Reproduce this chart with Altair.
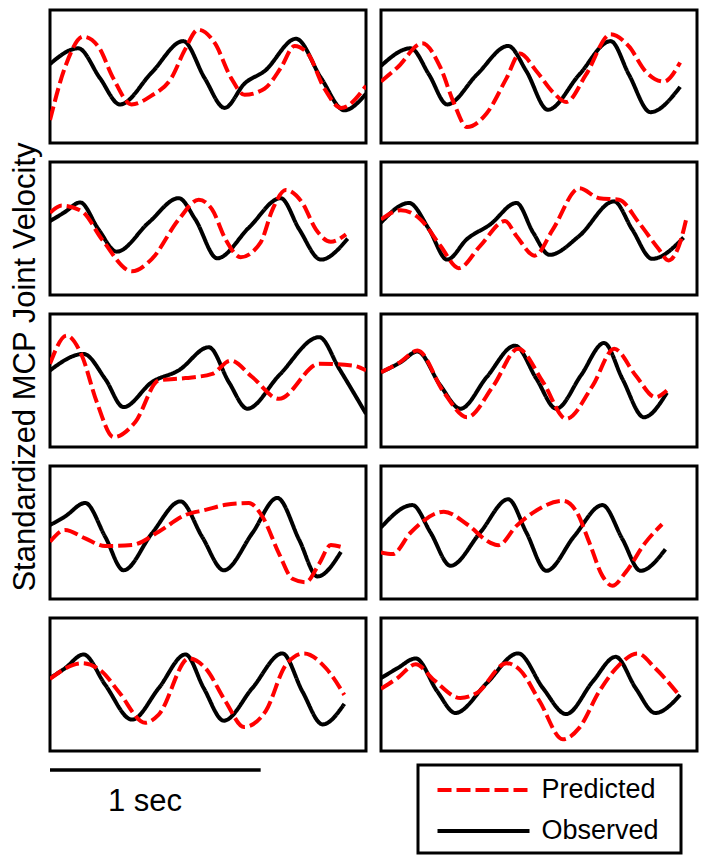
import altair as alt
import pandas as pd

FONT = "Liberation Sans"
SERIES = ["Predicted", "Observed"]
COLORS = ["#ff0000", "#000000"]
DASHES = [[14, 5], [1, 0]]
TITLE = "Standardized MCP Joint Velocity"
SCALE_LABEL = "1 sec"

# time (s) and standardized velocity
p1_obs_t = [0, 0.134, 0.237, 0.332, 0.482, 0.632, 0.734, 0.829, 0.924, 1.018, 1.168, 1.287, 1.397, 1.5]
p1_obs_v = [0.47, 1.06, -0.06, -1.05, 0.14, 1.33, -0.06, -1.18, -0.26, 0.20, 1.42, -0.06, -1.27, -0.65]
p1_pred_t = [0, 0.071, 0.158, 0.229, 0.3, 0.387, 0.482, 0.576, 0.64, 0.703, 0.782, 0.86, 0.924, 1.018, 1.097, 1.161, 1.224, 1.303, 1.382, 1.5]
p1_pred_v = [-1.64, 0.34, 1.50, 1.13, -0.06, -1.05, -0.72, -0.06, 1.0, 1.76, 1.26, -0.06, -0.69, -0.46, 0.34, 1.15, 0.86, -0.46, -1.18, -0.35]

p2_obs_t = [0, 0.141, 0.228, 0.314, 0.455, 0.604, 0.69, 0.792, 0.941, 1.09, 1.177, 1.279, 1.42]
p2_obs_v = [0.40, 1.06, 0.07, -1.05, 0.07, 1.15, 0.20, -1.25, 0.07, 1.33, 0.07, -1.34, -0.39]
p2_pred_t = [0, 0.078, 0.196, 0.282, 0.345, 0.408, 0.502, 0.596, 0.659, 0.738, 0.816, 0.879, 0.973, 1.09, 1.177, 1.255, 1.342, 1.42]
p2_pred_v = [-0.19, 0.34, 1.25, 0.34, -0.98, -1.90, -1.38, -0.06, 0.86, 0.20, -0.59, -0.96, 0.07, 1.59, 1.13, 0.20, -0.19, 0.53]

p3_obs_t = [0, 0.071, 0.143, 0.23, 0.317, 0.468, 0.611, 0.69, 0.794, 0.944, 1.095, 1.183, 1.286, 1.413]
p3_obs_v = [0.28, 0.62, 0.98, -0.03, -0.87, 0.22, 1.14, 0.34, -1.12, 0.03, 1.14, -0.03, -1.17, -0.38]
p3_pred_t = [0, 0.056, 0.151, 0.246, 0.389, 0.484, 0.611, 0.706, 0.77, 0.833, 0.905, 1.0, 1.056, 1.119, 1.198, 1.262, 1.333, 1.405]
p3_pred_v = [0.59, 0.86, 0.65, -0.40, -1.61, -1.14, 0.34, 1.08, 0.71, -0.40, -1.08, -0.52, 0.71, 1.45, 0.96, -0.03, -0.50, -0.22]

p4_obs_t = [0, 0.133, 0.228, 0.314, 0.408, 0.518, 0.643, 0.722, 0.8, 0.941, 1.106, 1.192, 1.287, 1.436]
p4_obs_v = [0.22, 0.96, -0.03, -1.17, -0.40, 0.15, 0.96, -0.15, -0.99, -0.28, 1.02, -0.03, -1.14, -0.34]
p4_pred_t = [0, 0.094, 0.188, 0.282, 0.369, 0.471, 0.589, 0.643, 0.73, 0.816, 0.941, 1.036, 1.13, 1.224, 1.318, 1.365, 1.42, 1.452]
p4_pred_v = [0.34, 0.69, 0.34, -0.65, -1.49, -0.65, 0.28, -0.28, -1.02, -0.03, 1.51, 1.14, 1.08, 0.22, -0.77, -1.20, -0.52, 0.46]

p5_obs_t = [0, 0.159, 0.262, 0.349, 0.484, 0.611, 0.754, 0.849, 0.937, 1.087, 1.278, 1.373, 1.5]
p5_obs_v = [0.38, 1.0, 0.06, -1.0, -0.06, 0.38, 1.25, -0.06, -1.06, 0.19, 1.63, 0.44, -1.25]
p5_pred_t = [0, 0.079, 0.151, 0.222, 0.302, 0.405, 0.516, 0.643, 0.77, 0.857, 0.96, 1.087, 1.278, 1.437, 1.5]
p5_pred_v = [0.63, 1.69, 0.94, -0.81, -2.13, -1.56, 0.0, 0.09, 0.25, 0.75, 0.13, -0.69, 0.63, 0.56, 0.38]

p6_obs_t = [0, 0.094, 0.173, 0.282, 0.377, 0.502, 0.636, 0.738, 0.832, 0.949, 1.059, 1.146, 1.248, 1.357]
p6_obs_v = [0.31, 0.69, 1.09, -0.19, -1.06, 0.13, 1.31, 0.06, -1.06, 0.19, 1.41, 0.06, -1.38, -0.46]
p6_pred_t = [0, 0.094, 0.173, 0.298, 0.408, 0.534, 0.651, 0.769, 0.879, 1.005, 1.107, 1.209, 1.303, 1.357]
p6_pred_v = [0.31, 0.71, 1.13, -0.44, -1.38, -0.19, 1.19, -0.06, -1.44, -0.19, 1.19, 0.19, -0.63, -0.38]

p7_obs_t = [0, 0.071, 0.167, 0.262, 0.349, 0.484, 0.619, 0.722, 0.825, 0.96, 1.079, 1.183, 1.27, 1.381]
p7_obs_v = [0.28, 0.60, 1.11, -0.16, -1.42, -0.03, 1.17, -0.16, -1.42, -0.03, 1.30, -0.28, -1.65, -0.73]
p7_pred_t = [0, 0.071, 0.167, 0.262, 0.389, 0.516, 0.643, 0.738, 0.833, 0.944, 1.008, 1.087, 1.151, 1.214, 1.278, 1.333, 1.381]
p7_pred_v = [-0.35, 0.09, -0.22, -0.51, -0.47, 0.03, 0.66, 0.85, 1.04, 1.11, 0.60, -0.79, -1.74, -1.87, -1.17, -0.47, -0.54]

p8_obs_t = [0, 0.149, 0.235, 0.33, 0.471, 0.604, 0.69, 0.785, 0.918, 1.051, 1.146, 1.232, 1.35]
p8_obs_v = [0.19, 1.03, 0.0, -1.25, 0.0, 1.25, 0.0, -1.44, -0.13, 1.03, -0.25, -1.44, -0.63]
p8_pred_t = [0, 0.055, 0.141, 0.298, 0.408, 0.518, 0.557, 0.643, 0.722, 0.863, 0.926, 0.989, 1.051, 1.098, 1.161, 1.255, 1.334]
p8_pred_v = [-0.75, -0.81, 0.0, 0.78, 0.31, -0.38, -0.48, 0.25, 0.75, 1.19, 0.81, -0.38, -1.63, -2.0, -1.5, -0.38, 0.31]

p9_obs_t = [0, 0.071, 0.159, 0.262, 0.389, 0.516, 0.643, 0.73, 0.825, 0.96, 1.103, 1.198, 1.294, 1.397]
p9_obs_v = [0.24, 0.61, 1.13, -0.01, -1.32, -0.14, 1.13, -0.14, -1.36, -0.14, 1.17, -0.26, -1.50, -0.73]
p9_pred_t = [0, 0.151, 0.246, 0.325, 0.452, 0.516, 0.659, 0.738, 0.833, 0.921, 1.024, 1.119, 1.206, 1.31, 1.397]
p9_pred_v = [0.21, 0.80, 0.49, -0.26, -1.44, -1.13, 0.98, 0.61, -0.63, -1.60, -1.0, 0.73, 1.17, 0.61, -0.39]

p10_obs_t = [0, 0.078, 0.165, 0.267, 0.353, 0.502, 0.651, 0.769, 0.879, 1.005, 1.114, 1.209, 1.302, 1.42]
p10_obs_v = [0.24, 0.61, 0.98, -0.26, -1.07, 0.05, 1.17, -0.14, -1.11, 0.11, 1.04, -0.14, -1.07, -0.39]
p10_pred_t = [0, 0.078, 0.165, 0.251, 0.377, 0.455, 0.596, 0.659, 0.753, 0.863, 0.941, 1.036, 1.13, 1.217, 1.302, 1.42]
p10_pred_v = [-0.16, 0.24, 0.76, 0.17, -0.51, -0.32, 0.80, 0.55, -0.63, -2.06, -1.63, -0.26, 0.73, 1.17, 0.61, -0.45]

panels = [
    [(p1_obs_t, p1_obs_v, p1_pred_t, p1_pred_v), (p2_obs_t, p2_obs_v, p2_pred_t, p2_pred_v)],
    [(p3_obs_t, p3_obs_v, p3_pred_t, p3_pred_v), (p4_obs_t, p4_obs_v, p4_pred_t, p4_pred_v)],
    [(p5_obs_t, p5_obs_v, p5_pred_t, p5_pred_v), (p6_obs_t, p6_obs_v, p6_pred_t, p6_pred_v)],
    [(p7_obs_t, p7_obs_v, p7_pred_t, p7_pred_v), (p8_obs_t, p8_obs_v, p8_pred_t, p8_pred_v)],
    [(p9_obs_t, p9_obs_v, p9_pred_t, p9_pred_v), (p10_obs_t, p10_obs_v, p10_pred_t, p10_pred_v)],
]

PANEL_W = 316
PANEL_H = 133

x_scale = alt.Scale(domain=[0, 1.5], nice=False, zero=False)
y_scale = alt.Scale(domain=[-2.5, 2.5], nice=False, zero=False)
color_scale = alt.Scale(domain=SERIES, range=COLORS)
dash_scale = alt.Scale(domain=SERIES, range=DASHES)


def series_line(t_vals, v_vals, name):
    d = pd.DataFrame({"t": t_vals, "v": v_vals, "series": name})
    return alt.Chart(d).mark_line(
        strokeWidth=4, interpolate="monotone", strokeJoin="round", clip=True
    ).encode(
        x=alt.X("t:Q", scale=x_scale, axis=None),
        y=alt.Y("v:Q", scale=y_scale, axis=None),
        color=alt.Color("series:N", scale=color_scale, legend=None),
        strokeDash=alt.StrokeDash("series:N", scale=dash_scale, legend=None),
        order=alt.Order("t:Q"),
    )


def panel(ot, ov, pt, pv):
    return alt.layer(
        series_line(ot, ov, "Observed"), series_line(pt, pv, "Predicted")
    ).properties(width=PANEL_W, height=PANEL_H)


rows = [alt.hconcat(panel(*a), panel(*b), spacing=11) for a, b in panels]
grid = alt.vconcat(*rows, spacing=15)

title_chart = (
    alt.Chart(pd.DataFrame({"label": [TITLE]}))
    .mark_text(angle=270, font=FONT, fontSize=31, align="center", baseline="middle", color="black")
    .encode(text="label:N", x=alt.value(18), y=alt.value(357))
    .properties(width=36, height=740, view=alt.ViewBackground(stroke=None))
)

bar_df = pd.DataFrame({"start": [0.0], "end": [1.0]})
scale_bar = alt.Chart(bar_df).mark_rule(strokeWidth=3.5, color="black").encode(
    x=alt.X("start:Q", scale=x_scale, axis=None),
    x2="end:Q",
    y=alt.value(5),
)
sec_text = alt.Chart(pd.DataFrame({"label": [SCALE_LABEL]})).mark_text(
    font=FONT, fontSize=31, align="center", baseline="alphabetic", color="black"
).encode(text="label:N", x=alt.value(95), y=alt.value(46))
scale_panel = alt.layer(scale_bar, sec_text).properties(
    width=PANEL_W, height=88, view=alt.ViewBackground(stroke=None)
)

legend_df = pd.DataFrame({"series": SERIES, "slot": [0, 1]})
slot_scale = alt.Scale(domain=[0, 1], range=[25, 66])
leg_lines = alt.Chart(legend_df).mark_rule(strokeWidth=4).encode(
    x=alt.value(19.5),
    x2=alt.value(111.5),
    y=alt.Y("slot:Q", scale=slot_scale, axis=None),
    color=alt.Color("series:N", scale=color_scale, legend=None),
    strokeDash=alt.StrokeDash("series:N", scale=dash_scale, legend=None),
)
leg_text = alt.Chart(legend_df).mark_text(
    align="left", baseline="middle", fontSize=27, font=FONT, color="black"
).encode(
    x=alt.value(123.5),
    y=alt.Y("slot:Q", scale=slot_scale, axis=None),
    text="series:N",
)
legend_box = alt.layer(leg_lines, leg_text).properties(width=263, height=88)

bottom = alt.hconcat(scale_panel, legend_box, spacing=50)
right = alt.vconcat(grid, bottom, spacing=10)

chart = (
    alt.hconcat(title_chart, right, spacing=4)
    .resolve_scale(x="independent", y="independent")
    .configure_view(stroke="black", strokeWidth=3)
    .properties(padding={"left": 0, "top": 0, "right": 0, "bottom": 0})
)

chart.save("out.html", embed_options={"renderer": "svg", "actions": False})
